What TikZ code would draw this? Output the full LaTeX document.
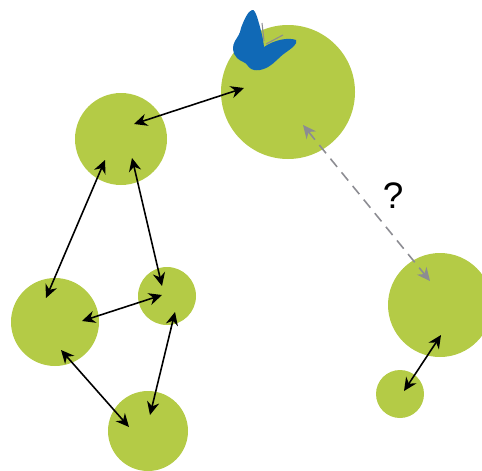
\documentclass[tikz,border=0pt]{standalone}
\usepackage{fontspec}
\setsansfont{Liberation Sans}
\usepackage{tikz}
\usetikzlibrary{arrows.meta}
\definecolor{patchgreen}{HTML}{B4CB46}
\definecolor{wingblue}{HTML}{1069B6}
\definecolor{linkgray}{HTML}{8C8C92}
\tikzset{
  patch/.style={circle,fill=patchgreen,inner sep=0pt,minimum size=#1*0.02cm},
  link/.style={{Stealth[length=7.5pt,width=7pt]}-{Stealth[length=7.5pt,width=7pt]},line width=0.9pt,black},
  maybe/.style={link,linkgray,dash pattern=on 6pt off 4pt}
}
\begin{document}
\begin{tikzpicture}[x=0.02cm,y=-0.02cm]
        \useasboundingbox (0,0) rectangle (482,470);

        % Patches
        \node[patch=134] (big) at (288,92) {};
        \node[patch=92] (top) at (121,139) {};
        \node[patch=88] (left) at (55,322) {};
        \node[patch=58] (mid) at (167,296) {};
        \node[patch=80] (low) at (148,431) {};
        \node[patch=104] (far) at (440,305) {};
        \node[patch=48] (small) at (400,394) {};

        % Butterfly
        \fill[wingblue] (252,10) .. controls (248,11) and (244,20) .. (241,28)
        .. controls (240,34) and (238,36) .. (235,41)
        .. controls (232,46) and (232,53) .. (237,58)
        .. controls (241,62) and (246,62) .. (248,66)
        .. controls (252,72) and (261,71) .. (268,67)
        .. controls (275,63) and (278,58) .. (285,53)
        .. controls (292,48) and (298,44) .. (296,40)
        .. controls (288,37) and (274,40) .. (264,47)
        .. controls (263,38) and (261,30) .. (258,20)
        .. controls (256,13) and (254,9) .. (252,10) -- cycle;
        \draw[linkgray,line width=0.6pt] (262,23) -- (264,41);
        \draw[linkgray,line width=0.6pt] (266,44) -- (283,35);

        % Ends of the links
        \coordinate (bigA) at (244,88);
        \coordinate (bigB) at (303,125);
        \coordinate (topA) at (134,124);
        \coordinate (topB) at (105,160);
        \coordinate (topC) at (132,158);
        \coordinate (leftA) at (46,298);
        \coordinate (leftB) at (82,321);
        \coordinate (leftC) at (61,350);
        \coordinate (midA) at (162,286);
        \coordinate (midB) at (162,295);
        \coordinate (midC) at (175,312);
        \coordinate (lowA) at (129,427);
        \coordinate (lowB) at (150,415);
        \coordinate (farA) at (430,281);
        \coordinate (farB) at (441,335);
        \coordinate (smallA) at (404,391);

        % Links
        \draw[link] (topA) -- (bigA);
        \draw[link] (topB) -- (leftA);
        \draw[link] (topC) -- (midA);
        \draw[link] (leftB) -- (midB);
        \draw[link] (leftC) -- (lowA);
        \draw[link] (midC) -- (lowB);
        \draw[link] (farB) -- (smallA);
        \draw[maybe] (bigB) -- (farA);

        \node[font=\sffamily\fontsize{21}{21}\selectfont] (unknown) at (393,196) {?};
    \end{tikzpicture}
\end{document}
